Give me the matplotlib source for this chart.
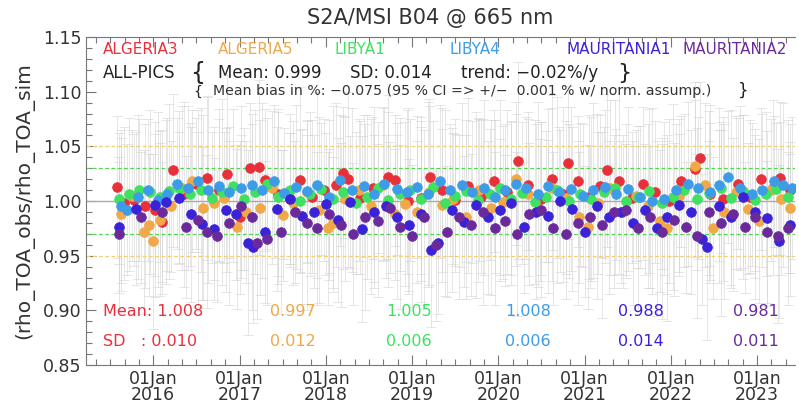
import matplotlib
matplotlib.use('Agg')
import matplotlib.pyplot as plt
from matplotlib.ticker import FixedLocator

# (decimal year, rho_obs/rho_sim, uncertainty)
algeria3 = [
    (2015.58, 1.013, 0.065), (2015.66, 0.998, 0.070), (2015.78, 1.001, 0.060), (2015.90, 0.995, 0.075),
    (2016.02, 0.992, 0.080), (2016.10, 0.981, 0.055), (2016.23, 1.028, 0.070), (2016.36, 1.006, 0.085),
    (2016.49, 1.016, 0.060), (2016.62, 1.021, 0.075), (2016.76, 1.010, 0.065), (2016.86, 1.025, 0.090),
    (2017.00, 0.985, 0.070), (2017.12, 1.030, 0.060), (2017.22, 1.031, 0.080), (2017.30, 1.019, 0.065),
    (2017.45, 1.006, 0.075), (2017.58, 1.002, 0.060), (2017.70, 1.019, 0.085), (2017.84, 1.004, 0.070),
    (2017.98, 1.010, 0.065), (2018.12, 1.015, 0.075), (2018.20, 1.026, 0.060), (2018.26, 1.020, 0.080),
    (2018.40, 1.003, 0.070), (2018.55, 1.012, 0.065), (2018.72, 1.022, 0.075), (2018.80, 1.019, 0.060),
    (2018.95, 1.000, 0.085), (2019.10, 1.003, 0.070), (2019.21, 1.022, 0.065), (2019.35, 1.010, 0.075),
    (2019.50, 1.001, 0.060), (2019.65, 1.014, 0.080), (2019.80, 1.004, 0.070), (2019.95, 1.018, 0.065),
    (2020.10, 1.008, 0.075), (2020.23, 1.037, 0.090), (2020.35, 1.015, 0.060), (2020.50, 1.002, 0.070),
    (2020.62, 1.020, 0.065), (2020.75, 1.006, 0.080), (2020.81, 1.035, 0.070), (2020.92, 1.018, 0.060),
    (2021.05, 1.004, 0.075), (2021.18, 1.014, 0.065), (2021.26, 1.028, 0.070), (2021.40, 1.018, 0.085),
    (2021.55, 1.003, 0.060), (2021.68, 1.016, 0.070), (2021.82, 1.008, 0.065), (2021.98, 1.000, 0.075),
    (2022.12, 1.018, 0.060), (2022.28, 1.029, 0.080), (2022.34, 1.039, 0.070), (2022.45, 1.006, 0.065),
    (2022.60, 1.002, 0.075), (2022.78, 1.016, 0.060), (2022.92, 1.004, 0.070), (2023.05, 1.020, 0.065),
    (2023.18, 1.012, 0.080), (2023.27, 1.021, 0.070), (2023.38, 1.010, 0.060),
]
algeria5 = [
    (2015.62, 0.988, 0.070), (2015.75, 1.005, 0.060), (2015.89, 0.972, 0.075), (2015.95, 0.978, 0.065),
    (2016.00, 0.963, 0.080), (2016.08, 0.983, 0.070), (2016.20, 0.995, 0.060), (2016.33, 1.012, 0.075),
    (2016.45, 1.018, 0.065), (2016.58, 0.994, 0.085), (2016.70, 0.998, 0.070), (2016.82, 1.003, 0.060),
    (2016.97, 0.976, 0.075), (2017.08, 0.990, 0.065), (2017.24, 0.994, 0.080), (2017.38, 1.012, 0.070),
    (2017.50, 0.987, 0.060), (2017.62, 0.998, 0.075), (2017.78, 1.008, 0.065), (2017.92, 0.992, 0.085),
    (2018.03, 0.975, 0.070), (2018.08, 0.980, 0.060), (2018.22, 1.002, 0.075), (2018.38, 1.010, 0.065),
    (2018.52, 0.995, 0.080), (2018.66, 1.015, 0.070), (2018.80, 0.988, 0.060), (2018.92, 0.997, 0.075),
    (2019.06, 0.990, 0.065), (2019.20, 1.008, 0.085), (2019.35, 0.996, 0.070), (2019.48, 1.002, 0.060),
    (2019.62, 0.985, 0.075), (2019.78, 1.010, 0.065), (2019.92, 0.994, 0.080), (2020.06, 0.999, 0.070),
    (2020.20, 1.020, 0.060), (2020.34, 1.006, 0.075), (2020.48, 0.992, 0.065), (2020.62, 1.012, 0.085),
    (2020.78, 1.003, 0.070), (2020.94, 0.985, 0.060), (2021.04, 0.976, 0.075), (2021.16, 0.998, 0.065),
    (2021.30, 1.012, 0.080), (2021.45, 0.990, 0.070), (2021.60, 1.005, 0.060), (2021.74, 0.995, 0.075),
    (2021.88, 0.982, 0.065), (2021.96, 0.975, 0.085), (2022.10, 1.005, 0.070), (2022.28, 1.032, 0.060),
    (2022.40, 1.015, 0.075), (2022.49, 0.975, 0.065), (2022.62, 0.990, 0.080), (2022.76, 1.008, 0.070),
    (2022.90, 0.993, 0.060), (2023.02, 0.982, 0.075), (2023.16, 1.010, 0.065), (2023.28, 1.002, 0.070),
    (2023.38, 0.994, 0.060),
]
libya1 = [
    (2015.60, 1.002, 0.060), (2015.72, 1.006, 0.070), (2015.84, 1.010, 0.065), (2015.96, 1.008, 0.075),
    (2016.08, 1.004, 0.060), (2016.18, 1.009, 0.080), (2016.30, 1.012, 0.070), (2016.42, 1.006, 0.065),
    (2016.55, 1.010, 0.075), (2016.68, 1.003, 0.060), (2016.80, 1.008, 0.085), (2016.92, 1.014, 0.070),
    (2017.05, 1.002, 0.065), (2017.18, 1.008, 0.075), (2017.32, 1.016, 0.060), (2017.45, 1.004, 0.080),
    (2017.58, 1.010, 0.070), (2017.70, 1.000, 0.065), (2017.82, 1.006, 0.075), (2017.95, 1.011, 0.060),
    (2018.08, 1.002, 0.085), (2018.20, 1.008, 0.070), (2018.35, 0.998, 0.065), (2018.48, 1.004, 0.075),
    (2018.60, 1.012, 0.060), (2018.72, 1.001, 0.080), (2018.86, 1.006, 0.070), (2018.98, 1.010, 0.065),
    (2019.10, 1.002, 0.075), (2019.24, 1.013, 0.060), (2019.38, 0.998, 0.085), (2019.50, 1.005, 0.070),
    (2019.62, 1.009, 0.065), (2019.76, 1.001, 0.075), (2019.90, 1.006, 0.060), (2020.02, 1.012, 0.080),
    (2020.15, 1.002, 0.070), (2020.28, 1.007, 0.065), (2020.42, 0.999, 0.075), (2020.55, 1.004, 0.060),
    (2020.68, 1.010, 0.085), (2020.82, 1.000, 0.070), (2020.95, 1.006, 0.065), (2021.08, 1.002, 0.075),
    (2021.22, 1.008, 0.060), (2021.35, 1.012, 0.080), (2021.48, 1.000, 0.070), (2021.62, 1.004, 0.065),
    (2021.75, 1.009, 0.075), (2021.90, 0.998, 0.060), (2022.02, 1.004, 0.085), (2022.15, 1.010, 0.070),
    (2022.30, 1.002, 0.065), (2022.44, 1.007, 0.075), (2022.58, 1.012, 0.060), (2022.70, 1.003, 0.080),
    (2022.84, 1.009, 0.070), (2022.98, 1.001, 0.065), (2023.10, 1.006, 0.075), (2023.22, 1.011, 0.060),
    (2023.36, 1.004, 0.070),
]
libya4 = [
    (2015.63, 0.995, 0.070), (2015.70, 0.992, 0.060), (2015.82, 1.004, 0.075), (2015.94, 1.010, 0.065),
    (2016.05, 1.001, 0.080), (2016.16, 1.006, 0.070), (2016.28, 1.016, 0.060), (2016.40, 1.012, 0.075),
    (2016.52, 1.018, 0.065), (2016.64, 1.010, 0.085), (2016.76, 1.014, 0.070), (2016.88, 1.008, 0.060),
    (2017.02, 1.012, 0.075), (2017.14, 1.015, 0.065), (2017.26, 1.010, 0.080), (2017.40, 1.018, 0.070),
    (2017.52, 1.007, 0.060), (2017.66, 1.013, 0.075), (2017.78, 1.009, 0.065), (2017.90, 1.015, 0.085),
    (2018.04, 1.004, 0.070), (2018.16, 1.019, 0.060), (2018.30, 1.010, 0.075), (2018.44, 1.014, 0.065),
    (2018.56, 1.006, 0.080), (2018.68, 1.016, 0.070), (2018.82, 1.011, 0.060), (2018.94, 1.008, 0.075),
    (2019.06, 1.013, 0.065), (2019.18, 1.006, 0.085), (2019.32, 1.018, 0.070), (2019.44, 1.010, 0.060),
    (2019.58, 1.015, 0.075), (2019.70, 1.008, 0.065), (2019.84, 1.012, 0.080), (2019.96, 1.004, 0.070),
    (2020.08, 1.010, 0.060), (2020.20, 1.016, 0.075), (2020.32, 1.012, 0.065), (2020.46, 1.006, 0.085),
    (2020.58, 1.014, 0.070), (2020.70, 1.008, 0.060), (2020.84, 1.011, 0.075), (2020.98, 1.005, 0.065),
    (2021.10, 1.010, 0.080), (2021.24, 1.013, 0.070), (2021.36, 1.006, 0.060), (2021.50, 1.011, 0.075),
    (2021.64, 1.004, 0.065), (2021.78, 1.000, 0.085), (2021.92, 1.002, 0.070), (2022.06, 1.010, 0.060),
    (2022.20, 1.016, 0.075), (2022.32, 1.012, 0.065), (2022.46, 1.008, 0.080), (2022.56, 1.015, 0.070),
    (2022.66, 1.022, 0.060), (2022.80, 1.012, 0.075), (2022.94, 1.006, 0.065), (2023.06, 1.010, 0.070),
    (2023.20, 1.018, 0.060), (2023.30, 1.015, 0.075), (2023.40, 1.012, 0.065),
]
mauritania1 = [
    (2015.60, 0.976, 0.060), (2015.80, 0.993, 0.070), (2016.02, 0.996, 0.065), (2016.15, 0.999, 0.075),
    (2016.30, 1.003, 0.060), (2016.44, 0.988, 0.080), (2016.56, 0.979, 0.070), (2016.70, 0.974, 0.065),
    (2016.84, 0.992, 0.075), (2016.96, 0.988, 0.060), (2017.10, 0.962, 0.085), (2017.16, 0.958, 0.070),
    (2017.30, 0.972, 0.065), (2017.44, 0.993, 0.075), (2017.58, 1.002, 0.060), (2017.72, 0.986, 0.080),
    (2017.86, 0.990, 0.070), (2018.00, 0.997, 0.065), (2018.14, 0.983, 0.075), (2018.28, 0.999, 0.060),
    (2018.42, 0.974, 0.085), (2018.56, 0.990, 0.070), (2018.70, 0.995, 0.065), (2018.82, 0.985, 0.075),
    (2018.96, 0.978, 0.060), (2019.10, 0.988, 0.080), (2019.22, 0.955, 0.070), (2019.30, 0.962, 0.065),
    (2019.46, 0.992, 0.075), (2019.60, 0.981, 0.060), (2019.74, 0.996, 0.085), (2019.88, 0.985, 0.070),
    (2020.02, 0.992, 0.065), (2020.15, 0.998, 0.075), (2020.30, 0.976, 0.060), (2020.44, 0.990, 0.080),
    (2020.58, 0.986, 0.070), (2020.72, 1.000, 0.065), (2020.86, 0.993, 0.075), (2021.00, 0.972, 0.060),
    (2021.14, 0.995, 0.085), (2021.28, 0.985, 0.070), (2021.42, 0.990, 0.065), (2021.56, 0.980, 0.075),
    (2021.70, 0.992, 0.060), (2021.84, 0.975, 0.080), (2021.96, 0.985, 0.070), (2022.10, 0.996, 0.065),
    (2022.24, 0.990, 0.075), (2022.36, 0.965, 0.060), (2022.42, 0.958, 0.085), (2022.56, 0.995, 0.070),
    (2022.70, 0.985, 0.065), (2022.84, 1.004, 0.075), (2022.98, 0.990, 0.060), (2023.12, 0.984, 0.080),
    (2023.26, 0.963, 0.070), (2023.38, 0.978, 0.065),
]
mauritania2 = [
    (2015.60, 0.970, 0.070), (2015.86, 0.985, 0.060), (2016.10, 0.990, 0.075), (2016.38, 0.976, 0.065),
    (2016.52, 0.983, 0.080), (2016.62, 0.972, 0.070), (2016.74, 0.968, 0.060), (2016.88, 0.980, 0.075),
    (2017.02, 0.995, 0.065), (2017.14, 0.985, 0.085), (2017.20, 0.962, 0.070), (2017.32, 0.965, 0.060),
    (2017.48, 0.972, 0.075), (2017.64, 0.990, 0.065), (2017.78, 0.980, 0.080), (2017.90, 0.975, 0.070),
    (2018.04, 0.988, 0.060), (2018.18, 0.978, 0.075), (2018.32, 0.970, 0.065), (2018.46, 0.985, 0.085),
    (2018.60, 0.982, 0.070), (2018.74, 0.994, 0.060), (2018.86, 0.976, 0.075), (2019.00, 0.968, 0.065),
    (2019.14, 0.985, 0.080), (2019.28, 0.960, 0.070), (2019.40, 0.972, 0.060), (2019.54, 0.985, 0.075),
    (2019.68, 0.978, 0.065), (2019.82, 0.990, 0.085), (2019.96, 0.975, 0.070), (2020.08, 0.982, 0.060),
    (2020.22, 0.970, 0.075), (2020.36, 0.988, 0.065), (2020.50, 0.992, 0.080), (2020.64, 0.975, 0.070),
    (2020.78, 0.970, 0.060), (2020.92, 0.980, 0.075), (2021.06, 0.985, 0.065), (2021.20, 0.978, 0.085),
    (2021.34, 0.990, 0.070), (2021.48, 0.992, 0.060), (2021.62, 0.975, 0.075), (2021.76, 0.985, 0.065),
    (2021.90, 0.972, 0.080), (2022.04, 0.983, 0.070), (2022.18, 0.976, 0.060), (2022.30, 0.968, 0.075),
    (2022.44, 0.990, 0.065), (2022.58, 0.980, 0.085), (2022.72, 0.988, 0.070), (2022.86, 0.976, 0.060),
    (2022.98, 0.985, 0.075), (2023.12, 0.972, 0.065), (2023.24, 0.968, 0.080), (2023.36, 0.975, 0.070),
]

site_names = ['ALGERIA3', 'ALGERIA5', 'LIBYA1', 'LIBYA4', 'MAURITANIA1', 'MAURITANIA2']
site_data = [algeria3, algeria5, libya1, libya4, mauritania1, mauritania2]
site_colors = ['#e8303a', '#f0a848', '#40e060', '#3c9ce8', '#3a22d8', '#6a2a9c']
site_mean = ['1.008', '0.997', '1.005', '1.008', '0.988', '0.981']
site_sd = ['0.010', '0.012', '0.006', '0.006', '0.014', '0.011']

years = [2016, 2017, 2018, 2019, 2020, 2021, 2022, 2023]
W, H = 799, 405

fig = plt.figure(figsize=(W / 100, H / 100), dpi=100)
ax = fig.add_axes([86 / W, 40 / H, 709 / W, 328 / H])

for data in site_data:
    t, v, e = zip(*data)
    ax.errorbar(t, v, yerr=e, fmt='none', ecolor='#cfcfcf', elinewidth=0.6,
                capsize=3.5, capthick=0.6, alpha=0.6, zorder=1)

ax.axhline(1.00, color='#aaaaaa', lw=1.0, zorder=2)
for y in (1.03, 0.97):
    ax.axhline(y, color='#50d850', lw=0.9, ls=(0, (3, 2)), zorder=2)
for y in (1.05, 0.95):
    ax.axhline(y, color='#f0d070', lw=0.9, ls=(0, (3, 2)), zorder=2)

for data, c in zip(site_data, site_colors):
    t, v, e = zip(*data)
    ax.plot(t, v, 'o', color=c, ms=7.0, mec=c, mew=0.5, zorder=3)

ax.set_xlim(2015.22, 2023.44)
ax.set_ylim(0.85, 1.15)
ax.set_yticks([0.85, 0.90, 0.95, 1.00, 1.05, 1.10, 1.15])
ax.yaxis.set_minor_locator(FixedLocator([0.85 + 0.01 * i for i in range(31)]))
ax.set_xticks(years)
ax.set_xticklabels(['01Jan\n%d' % y for y in years], linespacing=0.85)
ax.xaxis.set_minor_locator(FixedLocator([2015 + k / 6 for k in range(60)]))
ax.tick_params(axis='both', which='both', direction='in', colors='#777777',
               labelcolor='#333333', labelsize=12.5, top=True, right=False)
ax.tick_params(which='major', length=7, width=0.8)
ax.tick_params(which='minor', length=4, width=0.8)
for s in ('left', 'bottom', 'top'):
    ax.spines[s].set_color('#777777')
ax.spines['right'].set_visible(False)

ax.set_ylabel('(rho_TOA_obs/rho_TOA_sim', fontsize=14.5, color='#333333', labelpad=6)
fig.text(430 / W, 1 - 18 / H, 'S2A/MSI B04 @ 665 nm', fontsize=15, color='#333333',
         ha='center', va='center')

name_x = [103, 218, 334, 450, 566, 682]
for x, name, c in zip(name_x, site_names, site_colors):
    fig.text(x / W, 1 - 50 / H, name, fontsize=11, color=c, ha='left', va='center')

fig.text(103 / W, 1 - 73 / H, 'ALL-PICS', fontsize=12, color='#222222', va='center')
fig.text(190 / W, 1 - 73 / H, '{', fontsize=17, color='#222222', va='center')
fig.text(218 / W, 1 - 73 / H, 'Mean: 0.999', fontsize=12, color='#222222', va='center')
fig.text(350 / W, 1 - 73 / H, 'SD: 0.014', fontsize=12, color='#222222', va='center')
fig.text(461 / W, 1 - 73 / H, 'trend: \u22120.02%/y', fontsize=12, color='#222222', va='center')
fig.text(617 / W, 1 - 73 / H, '}', fontsize=16, color='#222222', va='center')
fig.text(193 / W, 1 - 92 / H, '{', fontsize=10, color='#222222', va='center')
fig.text(213 / W, 1 - 91 / H,
         'Mean bias in %: \u22120.075 (95 % CI => +/\u2212  0.001 % w/ norm. assump.)',
         fontsize=10.2, color='#333333', va='center')
fig.text(738 / W, 1 - 91 / H, '}', fontsize=12, color='#222222', va='center')

stat_x = [None, 270, 386, 505, 618, 733]
fig.text(103 / W, 1 - 312 / H, 'Mean: ' + site_mean[0], fontsize=11.5, color=site_colors[0], va='center')
fig.text(103 / W, 1 - 341 / H, 'SD   : ' + site_sd[0], fontsize=11.5, color=site_colors[0], va='center')
for x, m, sd, c in zip(stat_x[1:], site_mean[1:], site_sd[1:], site_colors[1:]):
    fig.text(x / W, 1 - 312 / H, m, fontsize=11.5, color=c, va='center')
    fig.text(x / W, 1 - 341 / H, sd, fontsize=11.5, color=c, va='center')

fig.savefig('out.png', dpi=100)
